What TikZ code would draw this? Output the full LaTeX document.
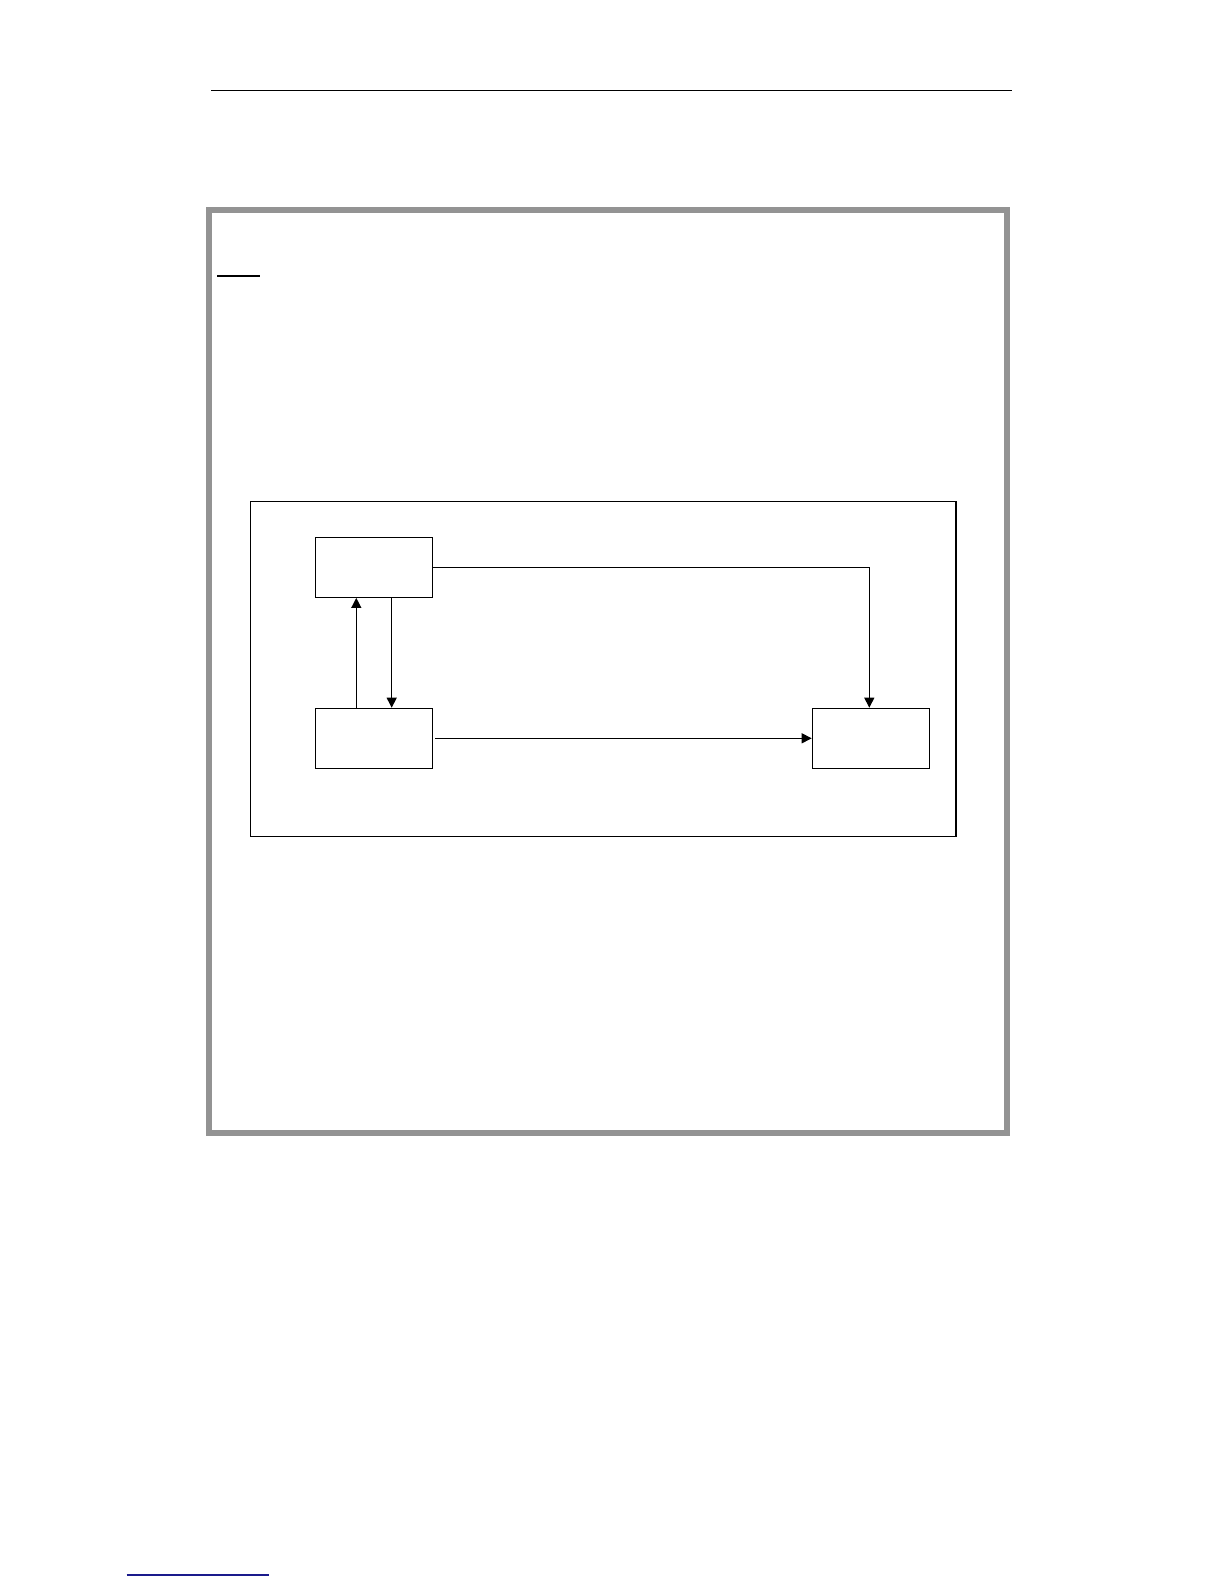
\documentclass[tikz,border=0pt]{standalone}
\usetikzlibrary{arrows.meta}
\definecolor{framegray}{HTML}{939393}
\definecolor{navyline}{HTML}{1A1A8C}
\tikzset{
  blockbox/.style={draw=black, line width=0.6pt, fill=white, inner sep=0pt, minimum width=58.5pt, minimum height=30pt},
  conn/.style={draw=black, line width=0.6pt},
  arr/.style={conn, -{Triangle[length=5pt,width=5pt]}}
}
\begin{document}
\begin{tikzpicture}[x=0.5pt,y=-0.5pt]
\useasboundingbox (0,0) rectangle (1224,1584);
% header rule
\draw[line width=0.7pt] (211,90.3) -- (1011.7,90.3);
% gray frame
\draw[framegray, line width=3pt] (209,209.7) rectangle (1007,1133);
% short underline
\draw[line width=0.65pt] (217,276) -- (260,276);
% inner frame
\draw[line width=0.6pt] (250.3,501.3) rectangle (956,836.8);
% blocks
\node[blockbox] (A) at (374,567.3) {};
\node[blockbox] (B) at (374,738.3) {};
\node[blockbox] (C) at (870.8,738.3) {};
% connectors
\draw[arr] (B.north -| 356.3,0) -- (A.south -| 356.3,0);
\draw[arr] (A.south -| 391.7,0) -- (B.north -| 391.7,0);
\draw[arr] (A.east) -| (C.north -| 869.3,0);
\draw[arr, shorten <=1pt] (B.east) -- (C.west);
% bottom footnote rule
\draw[navyline, line width=0.6pt] (126.7,1575) -- (269,1575);
\end{tikzpicture}
\end{document}
